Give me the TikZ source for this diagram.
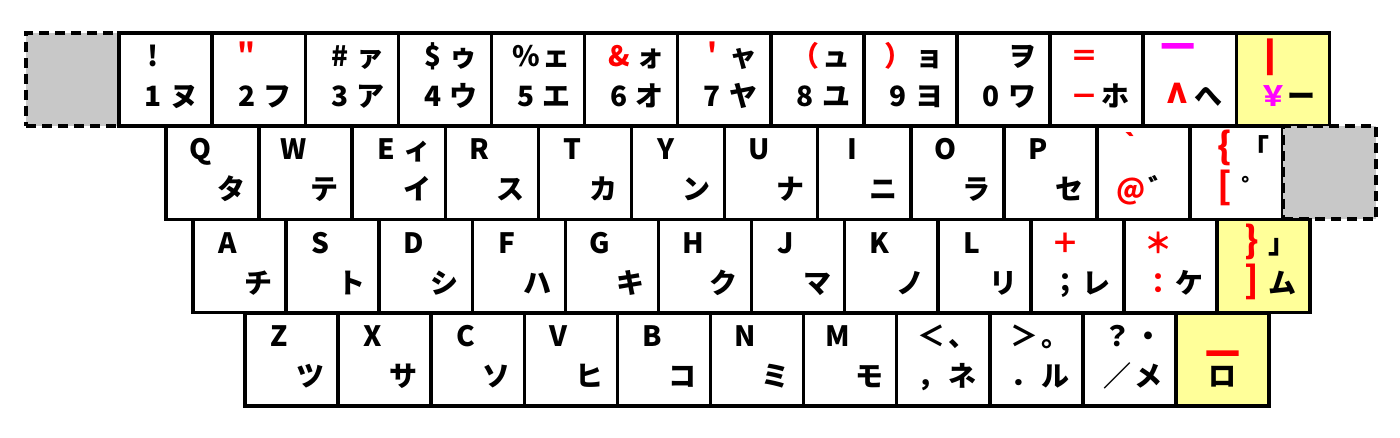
\documentclass[tikz,border=0pt]{standalone}
\usepackage{fontspec}
\usepackage{xcolor}
\usepackage{graphicx}
\setmainfont{Noto Sans CJK JP}
\newfontfamily\heavyfont{Noto Sans CJK JP}[BoldFeatures={FakeBold=15}]
\definecolor{keyred}{HTML}{FF0000}
\definecolor{keymag}{HTML}{FF00FF}
\definecolor{keyyel}{HTML}{FFFF99}
\definecolor{keygray}{HTML}{C8C8C8}
\newcommand\rd[1]{\textcolor{keyred}{#1}}
\newcommand\mg[1]{\textcolor{keymag}{#1}}
\newcommand\kpair[2]{\makebox[15.5pt]{#1}\makebox[15.5pt]{#2}}
\newcommand\thick[2]{\raisebox{#1}{\heavyfont\bfseries #2}}

\begin{document}
\begin{tikzpicture}[x=0.5pt,y=-0.5pt,
    keycap/.style={draw,line width=1.75pt,fill=white,minimum width=46.55pt,
      minimum height=46.6pt,inner sep=0pt,outer sep=0pt,anchor=north west},
    sparekey/.style={keycap,fill=keygray,dash pattern=on 5pt off 3pt,line width=2pt},
    legend/.style={anchor=base west,inner sep=0pt,
      font=\bfseries\fontsize{14pt}{14pt}\selectfont}]
\useasboundingbox (0,0) rectangle (1400,438);

% number row
\node[sparekey] (k1-0) at (26,33) {};
\foreach \tl/\tr/\bl/\br/\f [count=\i] in {
    !/{}/1/ヌ/white, \rd{＂}/{}/2/フ/white, \#/ァ/3/ア/white, \$/ゥ/4/ウ/white,
    \%/ェ/5/エ/white, \rd{\&}/ォ/6/オ/white, \rd{＇}/ャ/7/ヤ/white,
    \rd{（}/ュ/8/ユ/white, \rd{）}/ョ/9/ヨ/white, {}/ヲ/0/ワ/white,
    \rd{＝}/{}/\rd{－}/ホ/white,
    \mg{\thick{-0.12em}{￣}}/{}/\rd{\raisebox{-0.4em}[0.45em][0pt]{\scalebox{1.4}[1.6]{\textasciicircum}}}/へ/white,
    \rd{\scalebox{1.8}[1.15]{|}}/{}/\mg{\hspace{3pt}￥}/ー/keyyel} {
  \node[keycap,fill=\f] (k1-\i) at (26+\i*93.1,33) {};
  \node[legend] (k1-\i-up) at ([shift={(18.5,33.5)}]k1-\i.north west) {\kpair{\tl}{\tr}};
  \node[legend] (k1-\i-dn) at ([shift={(18.5,73.5)}]k1-\i.north west) {\kpair{\bl}{\br}};
}

% upper row
\foreach \tl/\tr/\bl/\br [count=\i from 0] in {
    Q/{}/{}/タ, W/{}/{}/テ, E/ィ/{}/イ, R/{}/{}/ス, T/{}/{}/カ, Y/{}/{}/ン,
    U/{}/{}/ナ, I/{}/{}/ニ, O/{}/{}/ラ, P/{}/{}/セ,
    \rd{｀}/{}/\rd{@}/゛, \rd{\scalebox{1.3}{\{}}/「/\rd{\scalebox{1.3}{[}}/゜} {
  \node[keycap] (k2-\i) at (166+\i*93.1,126.25) {};
  \node[legend] (k2-\i-up) at ([shift={(18.5,33.5)}]k2-\i.north west) {\kpair{\tl}{\tr}};
  \node[legend] (k2-\i-dn) at ([shift={(18.5,73.5)}]k2-\i.north west) {\kpair{\bl}{\br}};
}
\node[sparekey] (k2-12) at (166+12*93.1,126.25) {};

% home row
\foreach \tl/\tr/\bl/\br/\f [count=\i from 0] in {
    A/{}/{}/チ/white, S/{}/{}/ト/white, D/{}/{}/シ/white, F/{}/{}/ハ/white,
    G/{}/{}/キ/white, H/{}/{}/ク/white, J/{}/{}/マ/white, K/{}/{}/ノ/white,
    L/{}/{}/リ/white, \rd{＋}/{}/；/レ/white, \rd{＊}/{}/\rd{：}/ケ/white,
    \rd{\scalebox{1.3}{\}}}/」/\rd{\scalebox{1.3}{]}}/ム/keyyel} {
  \node[keycap,fill=\f] (k3-\i) at (193+\i*93.1,219.5) {};
  \node[legend] (k3-\i-up) at ([shift={(18.5,33.5)}]k3-\i.north west) {\kpair{\tl}{\tr}};
  \node[legend] (k3-\i-dn) at ([shift={(18.5,73.5)}]k3-\i.north west) {\kpair{\bl}{\br}};
}

% lower row
\foreach \tl/\tr/\bl/\br [count=\i from 0] in {
    Z/{}/{}/ツ, X/{}/{}/サ, C/{}/{}/ソ, V/{}/{}/ヒ, B/{}/{}/コ, N/{}/{}/ミ,
    M/{}/{}/モ, ＜/、/，/ネ, ＞/。/．/ル, ？/・/／/メ} {
  \node[keycap] (k4-\i) at (245+\i*93.1,312.75) {};
  \node[legend] (k4-\i-up) at ([shift={(18.5,33.5)}]k4-\i.north west) {\kpair{\tl}{\tr}};
  \node[legend] (k4-\i-dn) at ([shift={(18.5,73.5)}]k4-\i.north west) {\kpair{\bl}{\br}};
}
\node[keycap,fill=keyyel] (k4-10) at (245+10*93.1,312.75) {};
\node[legend,anchor=base] (k4-10-up) at ([shift={(0,33.5)}]k4-10.north) {\rd{\thick{-0.15em}{＿}}};
\node[legend,anchor=base] (k4-10-dn) at ([shift={(0,73.5)}]k4-10.north) {ロ};
\end{tikzpicture}
\end{document}
